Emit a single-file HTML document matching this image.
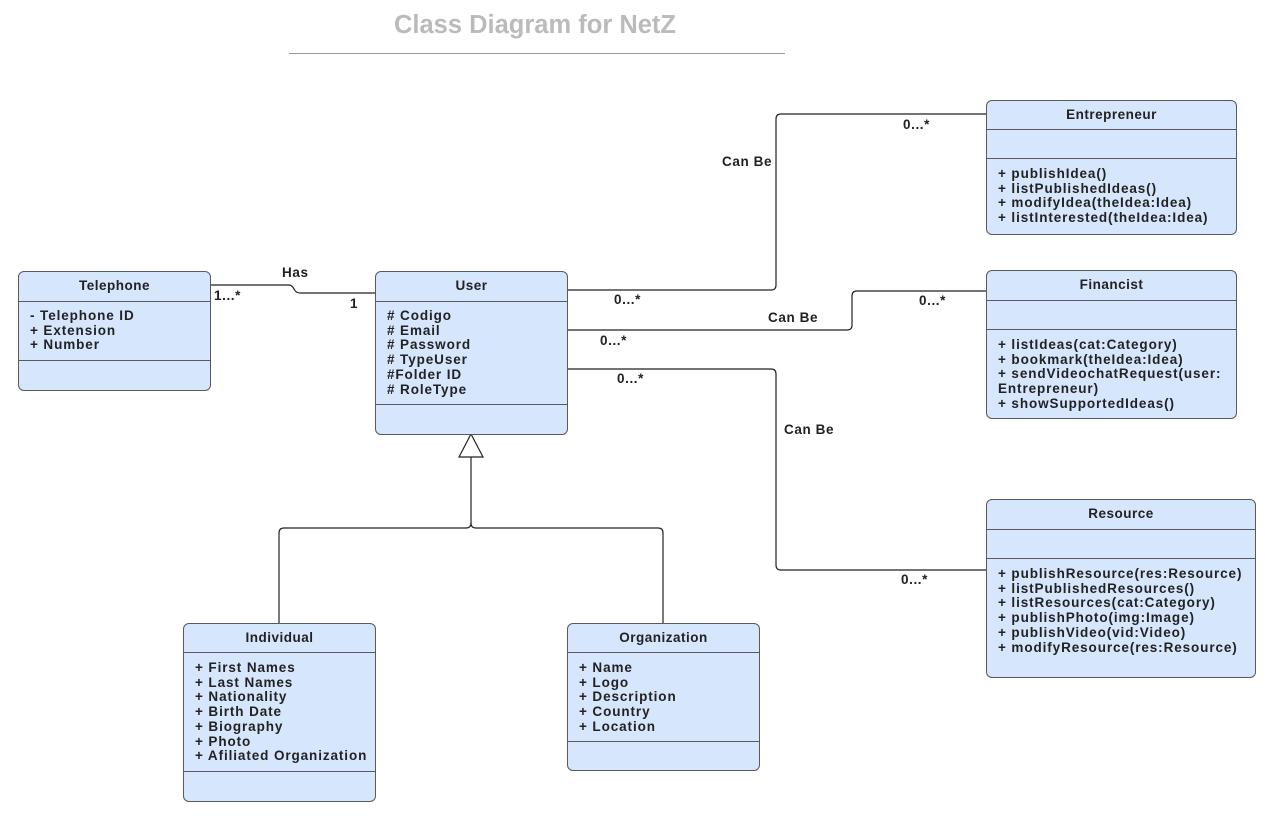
<!DOCTYPE html>
<html><head><meta charset="utf-8"><style>
body{margin:0;width:1280px;height:820px;background:#fff;position:relative;font-family:"Liberation Sans",sans-serif;overflow:hidden}
.b{position:absolute;background:#d6e6fd;border:1px solid #5a5a5a;border-radius:6px;box-sizing:border-box;color:#222}
.h{position:absolute;left:0;right:0;text-align:center;font-weight:bold;font-size:13.5px;letter-spacing:0.5px}
.l{position:absolute;left:0;right:0;border-top:1px solid #5a5a5a}
.t{position:absolute;left:11px;font-weight:bold;font-size:13.5px;line-height:14.7px;white-space:pre;letter-spacing:0.9px;top:37px}
.lb{position:absolute;font-weight:bold;font-size:13.5px;color:#222;white-space:pre;letter-spacing:0.6px}
</style></head><body>
<div style="position:absolute;left:285px;top:11px;width:500px;text-align:center;font-weight:bold;font-size:25.5px;color:#bbb">Class Diagram for NetZ</div>
<div style="position:absolute;left:289px;top:53px;width:496px;border-top:1px solid #999"></div>
<svg width="1280" height="820" style="position:absolute;left:0;top:0" fill="none" stroke="#222" stroke-width="1.2">
<path d="M210 285 H289 Q292 285 294 289 Q296 293 300 293 H375"/>
<path d="M567 290 H771 Q776 290 776 285 V119 Q776 114 781 114 H986"/>
<path d="M567 330 H847 Q852 330 852 325 V296 Q852 291 857 291 H986"/>
<path d="M567 369 H771 Q776 369 776 374 V565 Q776 570 781 570 H986"/>
<path d="M471 457 V523 Q471 528 466 528 H284 Q279 528 279 533 V623"/>
<path d="M471 523 Q471 528 476 528 H658 Q663 528 663 533 V623"/>
<path d="M471 434 L483 457 H459 Z" fill="#fff"/>
</svg>
<div class="lb" style="left:282px;top:265px">Has</div>
<div class="lb" style="left:214px;top:288px">1...*</div>
<div class="lb" style="left:350px;top:296px">1</div>
<div class="lb" style="left:614px;top:292px">0...*</div>
<div class="lb" style="left:903px;top:117px">0...*</div>
<div class="lb" style="left:722px;top:154px">Can Be</div>
<div class="lb" style="left:600px;top:333px">0...*</div>
<div class="lb" style="left:919px;top:293px">0...*</div>
<div class="lb" style="left:768px;top:310px">Can Be</div>
<div class="lb" style="left:617px;top:371px">0...*</div>
<div class="lb" style="left:901px;top:572px">0...*</div>
<div class="lb" style="left:784px;top:422px">Can Be</div>

<div class="b" style="left:18px;top:271px;width:193px;height:120px">
<div class="h" style="top:6px">Telephone</div><div class="l" style="top:29px"></div>
<div class="t">- Telephone ID
+ Extension
+ Number</div><div class="l" style="top:88px"></div></div>

<div class="b" style="left:375px;top:271px;width:193px;height:164px">
<div class="h" style="top:6px">User</div><div class="l" style="top:29px"></div>
<div class="t"># Codigo
# Email
# Password
# TypeUser
#Folder ID
# RoleType</div><div class="l" style="top:132px"></div></div>

<div class="b" style="left:986px;top:100px;width:251px;height:135px">
<div class="h" style="top:6px">Entrepreneur</div><div class="l" style="top:28px"></div><div class="l" style="top:57px"></div>
<div class="t" style="top:66px">+ publishIdea()
+ listPublishedIdeas()
+ modifyIdea(theIdea:Idea)
+ listInterested(theIdea:Idea)</div></div>

<div class="b" style="left:986px;top:270px;width:251px;height:149px">
<div class="h" style="top:6px">Financist</div><div class="l" style="top:29px"></div><div class="l" style="top:58px"></div>
<div class="t" style="top:67px">+ listIdeas(cat:Category)
+ bookmark(theIdea:Idea)
+ sendVideochatRequest(user:
Entrepreneur)
+ showSupportedIdeas()</div></div>

<div class="b" style="left:986px;top:499px;width:270px;height:179px">
<div class="h" style="top:6px">Resource</div><div class="l" style="top:29px"></div><div class="l" style="top:58px"></div>
<div class="t" style="top:67px">+ publishResource(res:Resource)
+ listPublishedResources()
+ listResources(cat:Category)
+ publishPhoto(img:Image)
+ publishVideo(vid:Video)
+ modifyResource(res:Resource)</div></div>

<div class="b" style="left:183px;top:623px;width:193px;height:179px">
<div class="h" style="top:6px">Individual</div><div class="l" style="top:28px"></div>
<div class="t">+ First Names
+ Last Names
+ Nationality
+ Birth Date
+ Biography
+ Photo
+ Afiliated Organization</div><div class="l" style="top:147px"></div></div>

<div class="b" style="left:567px;top:623px;width:193px;height:148px">
<div class="h" style="top:6px">Organization</div><div class="l" style="top:28px"></div>
<div class="t">+ Name
+ Logo
+ Description
+ Country
+ Location</div><div class="l" style="top:117px"></div></div>
</body></html>
